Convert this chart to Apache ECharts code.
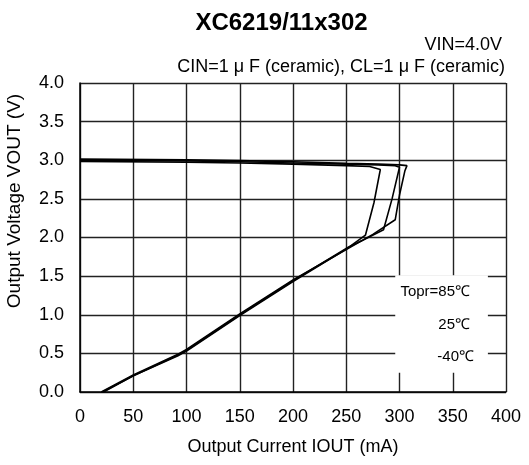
<!DOCTYPE html>
<html>
<head>
<meta charset="utf-8">
<script src="https://cdn.jsdelivr.net/npm/echarts@6/dist/echarts.min.js"></script>
<style>html,body{margin:0;padding:0;background:#fff}#c{width:529px;height:465px}</style>
</head>
<body>
<div id="c"></div>
<script>
// ---- data ----
const xTicks = [0, 50, 100, 150, 200, 250, 300, 350, 400];
const yTicks = [0.0, 0.5, 1.0, 1.5, 2.0, 2.5, 3.0, 3.5, 4.0];

const iout85 = [0, 100, 150, 200, 250, 272, 282, 276, 268, 250, 200, 150, 100, 92, 50, 22];
const vout85 = [2.985, 2.975, 2.965, 2.95, 2.93, 2.92, 2.88, 2.45, 2.03, 1.85, 1.43, 0.99, 0.53, 0.47, 0.21, 0.00];

const iout25 = [0, 100, 150, 200, 250, 280, 296, 300, 293, 285, 265, 250, 200, 150, 100, 92, 50, 21];
const vout25 = [3.00, 2.99, 2.98, 2.965, 2.95, 2.94, 2.93, 2.91, 2.50, 2.10, 1.96, 1.86, 1.44, 1.00, 0.54, 0.48, 0.21, 0.00];

const ioutM40 = [0, 100, 150, 200, 250, 280, 300, 307, 305, 300, 296, 275, 252, 200, 150, 100, 92, 50, 20];
const voutM40 = [3.015, 3.005, 2.995, 2.98, 2.96, 2.95, 2.94, 2.93, 2.86, 2.55, 2.23, 2.04, 1.86, 1.45, 1.01, 0.55, 0.49, 0.22, 0.00];

const tempLabels = ['Topr=85\u2103', '25\u2103', '-40\u2103'];
const titleText = 'XC6219/11x302';
const cond1 = 'VIN=4.0V';
const cond2 = 'CIN=1 \u03bc F (ceramic), CL=1 \u03bc F (ceramic)';
const xName = 'Output Current IOUT (mA)';
const yName = 'Output Voltage VOUT (V)';

const FONT = '"Liberation Sans", Arial, sans-serif';
const pairs = (xs, ys) => xs.map((x, i) => [x, ys[i]]);

const chart = echarts.init(document.getElementById('c'), null, {renderer: 'canvas'});

const lineSeries = (name, xs, ys) => ({
  name, type: 'line', data: pairs(xs, ys), showSymbol: false, symbol: 'none',
  lineStyle: {color: '#000', width: 1.6}, z: 3, animation: false
});

const txt = (x, y, text, font, align, extra) => Object.assign({
  type: 'text', x, y, z: 10,
  style: {text, font, fill: '#000', textAlign: align, textVerticalAlign: 'middle',
    align: align, verticalAlign: 'middle'}
}, extra || {});

chart.setOption({
  animation: false,
  backgroundColor: '#fff',
  grid: {left: 80, right: 23, top: 83, bottom: 73, containLabel: false},
  xAxis: {
    type: 'value', min: xTicks[0], max: xTicks[xTicks.length - 1], interval: 50,
    name: xName, nameLocation: 'middle', nameGap: 46,
    nameTextStyle: {color: '#000', fontSize: 18, fontFamily: FONT},
    axisLine: {show: true, lineStyle: {color: '#000', width: 1.5}},
    axisTick: {show: false},
    axisLabel: {color: '#000', fontSize: 18, fontFamily: FONT, margin: 16},
    splitLine: {show: true, lineStyle: {color: '#222', width: 1.4}}
  },
  yAxis: {
    type: 'value', min: yTicks[0], max: yTicks[yTicks.length - 1], interval: 0.5,
    axisLine: {show: true, lineStyle: {color: '#000', width: 1.5}},
    axisTick: {show: false},
    axisLabel: {color: '#000', fontSize: 18, fontFamily: FONT, margin: 16,
      formatter: v => v.toFixed(1)},
    splitLine: {show: true, lineStyle: {color: '#222', width: 1.4}}
  },
  series: [
    {
      type: 'line', data: [], silent: true,
      markArea: {silent: true, itemStyle: {color: '#fff', opacity: 1},
        data: [[{coord: [296, 1.51]}, {coord: [383, 0.25]}]]},
      z: 2
    },
    lineSeries('85', iout85, vout85),
    lineSeries('25', iout25, vout25),
    lineSeries('-40', ioutM40, voutM40)
  ],
  graphic: [
    txt(281.5, 23, titleText, 'bold 24px ' + FONT, 'center'),
    txt(502, 45, cond1, '18px ' + FONT, 'right'),
    txt(505, 67, cond2, '18px ' + FONT, 'right'),
    txt(15, 201, yName, '19px ' + FONT, 'center', {rotation: Math.PI / 2}),
    txt(470, 292, tempLabels[0], '15px ' + FONT, 'right'),
    txt(470, 325, tempLabels[1], '15px ' + FONT, 'right'),
    txt(474, 357, tempLabels[2], '15px ' + FONT, 'right')
  ]
});
</script>
</body>
</html>
